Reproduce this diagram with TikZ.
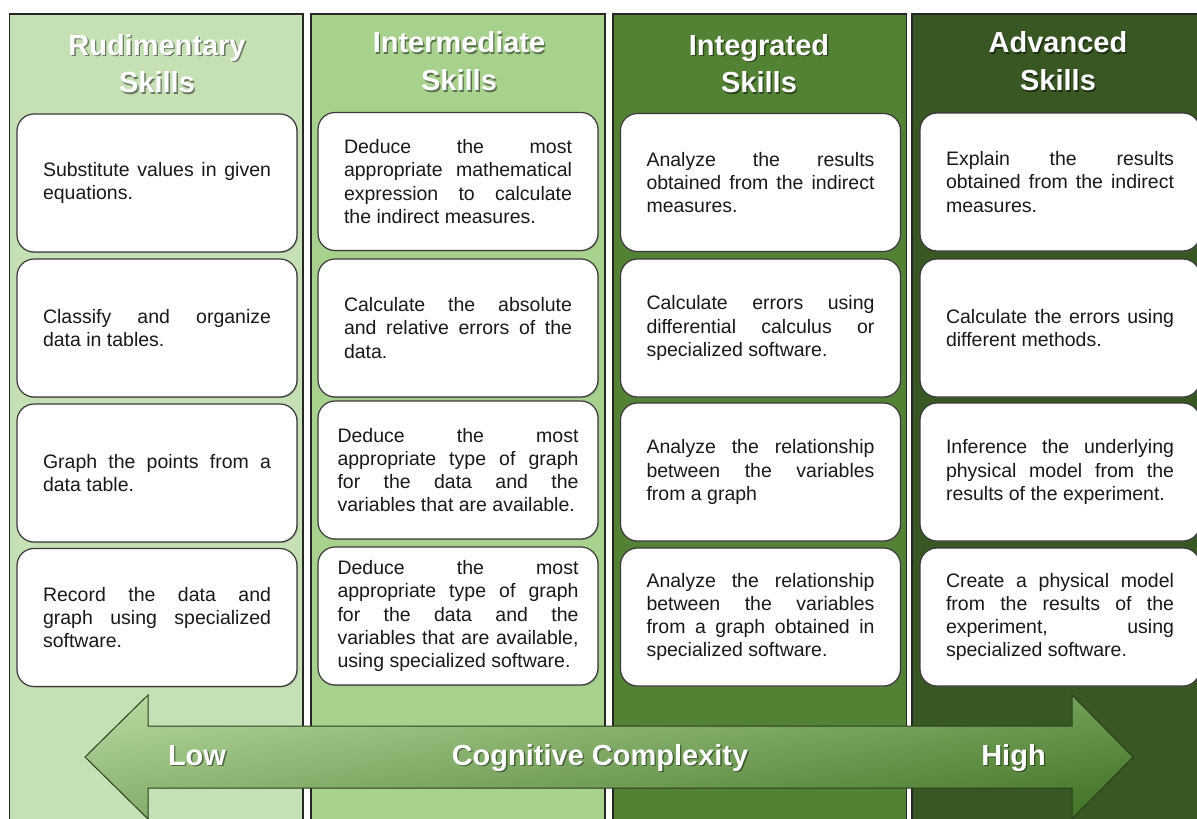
\documentclass[tikz,border=0pt]{standalone}
\usepackage{fontspec}
\setmainfont{Liberation Sans}
\usetikzlibrary{shadows}
\setlength{\parindent}{0pt}

\definecolor{colA}{HTML}{C5E0B4}
\definecolor{colB}{HTML}{A9D18E}
\definecolor{colC}{HTML}{548235}
\definecolor{colD}{HTML}{385723}
\definecolor{arrL}{HTML}{B0D795}
\definecolor{arrR}{HTML}{467B28}
\definecolor{arrTop}{HTML}{D4EEBE}
\definecolor{arrBot}{HTML}{2A5414}
\definecolor{arrEdge}{HTML}{2A3F1D}
\definecolor{boxEdge}{HTML}{3A3A3A}

% one fully justified line of a paragraph (spaces stretch to the full width)
\newcommand\jl[1]{{\spaceskip=0pt\xspaceskip=0pt\makebox[\hsize][s]{#1}}\\}
% white bold title text with a soft dark shadow
\newcommand\titletext[4]{%
  \node[titleshadow] (#1s) at (#2+1.4,#3+1.6) {#4};
  \node[title] (#1) at (#2,#3) {#4};}
% outline of the double-headed complexity arrow
\def\arrowpath{(85,757) -- (148,695) -- (148,726) -- (1072,726) -- (1072,695)
  -- (1133,757) -- (1072,819) -- (1072,788) -- (148,788) -- (148,819) -- cycle}

\begin{document}
\begin{tikzpicture}[x=1pt,y=-1pt,
  column/.style={draw=black!85,line width=1.3pt},
  skill/.style={draw=boxEdge,line width=1.2pt,fill=white,rounded corners=17pt,
    minimum width=280pt,minimum height=138pt,inner xsep=26pt,inner ysep=0pt,
    text width=228pt,align=justify,
    font=\fontsize{19.5}{23.3}\selectfont,
    text=black!90,
    drop shadow={shadow xshift=1pt,shadow yshift=-1pt,opacity=0.35,fill=black!60}},
  wide/.style={inner xsep=19.5pt,text width=241pt},
  title/.style={font=\fontsize{29}{35}\selectfont\bfseries,text=white,anchor=base,inner sep=0pt},
  titleshadow/.style={title,text=black,text opacity=0.45},
]
\useasboundingbox (0,0) rectangle (1197,819);
\clip (0,0) rectangle (1197,819);
\fill[white] (0,0) rectangle (1197,819);

% skill columns
\draw[column,fill=colA] (9.5,14) rectangle (303,830);
\draw[column,fill=colB] (311,14) rectangle (605,830);
\draw[column,fill=colC] (613,14) rectangle (906.5,830);
\draw[column,fill=colD] (912,14) rectangle (1215,830);

% column titles
\titletext{t1a}{157}{55}{Rudimentary}
\titletext{t1b}{157}{92.5}{Skills}
\titletext{t2a}{459}{52.5}{Intermediate}
\titletext{t2b}{459}{90.5}{Skills}
\titletext{t3a}{759}{55}{Integrated}
\titletext{t3b}{759}{92.5}{Skills}
\titletext{t4a}{1058}{52.5}{Advanced}
\titletext{t4b}{1058}{90.5}{Skills}

% rudimentary skills
\node[skill] (r1) at (157,183) {\jl{Substitute values in given}equations.};
\node[skill] (r2) at (157,328) {\jl{Classify and organize}data in tables.};
\node[skill] (r3) at (157,473) {\jl{Graph the points from a}data table.};
\node[skill] (r4) at (157,617.5) {\jl{Record the data and}\jl{graph using specialized}software.};

% intermediate skills
\node[skill] (i1) at (458,181.5) {\jl{Deduce the most}\jl{appropriate mathematical}\jl{expression to calculate}the indirect measures.};
\node[skill] (i2) at (458,328) {\jl{Calculate the absolute}\jl{and relative errors of the}data.};
\node[skill,wide] (i3) at (458,470) {\jl{Deduce the most}\jl{appropriate type of graph}\jl{for the data and the}variables that are available.};
\node[skill,wide] (i4) at (458,616) {\jl{Deduce the most}\jl{appropriate type of graph}\jl{for the data and the}\jl{variables that are available,}using specialized software.};

% integrated skills
\node[skill] (g1) at (760.5,182.5) {\jl{Analyze the results}\jl{obtained from the indirect}measures.};
\node[skill] (g2) at (760.5,328) {\jl{Calculate errors using}\jl{differential calculus or}specialized software.};
\node[skill] (g3) at (760.5,472) {\jl{Analyze the relationship}\jl{between the variables}from a graph};
\node[skill] (g4) at (760.5,617) {\jl{Analyze the relationship}\jl{between the variables}\jl{from a graph obtained in}specialized software.};

% advanced skills
\node[skill] (a1) at (1060,182) {\jl{Explain the results}\jl{obtained from the indirect}measures.};
\node[skill] (a2) at (1060,328) {\jl{Calculate the errors using}different methods.};
\node[skill] (a3) at (1060,472) {\jl{Inference the underlying}\jl{physical model from the}results of the experiment.};
\node[skill] (a4) at (1060,617) {\jl{Create a physical model}\jl{from the results of the}\jl{experiment, using}specialized software.};

% cognitive complexity arrow
\shade[left color=arrL,right color=arrR] \arrowpath;
\shade[top color=arrTop,bottom color=arrBot,opacity=0.3] \arrowpath;
\draw[arrEdge,line width=1pt,line join=miter] \arrowpath;
\titletext{low}{197}{765}{Low}
\titletext{cc}{600}{765}{Cognitive Complexity}
\titletext{high}{1013.5}{765}{High}
\end{tikzpicture}
\end{document}
